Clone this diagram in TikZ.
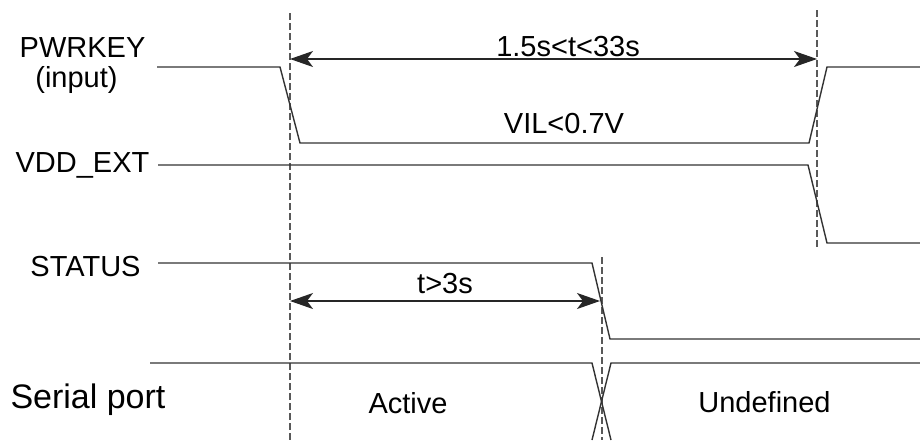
\documentclass[tikz,border=0pt]{standalone}
\usepackage{fontspec}
\setmainfont{Liberation Sans}
\usetikzlibrary{arrows.meta}
\begin{document}
\begin{tikzpicture}[x=1pt,y=-1pt,
  sig/.style={line width=1.4pt, draw=black!80},
  guide/.style={line width=1.3pt, draw=black!65, dash pattern=on 7pt off 3pt},
  dimarrow/.style={line width=1.2pt, draw=black!85,
    {Stealth[length=23pt,width=16pt,inset=6pt]}-{Stealth[length=23pt,width=16pt,inset=6pt]}},
  lbl/.style={font=\fontsize{29}{34}\selectfont, inner sep=0pt, anchor=base},
  biglbl/.style={font=\fontsize{34}{40}\selectfont, inner sep=0pt, anchor=base}]
\useasboundingbox (0,0) rectangle (920,440);
% guide lines
\coordinate (g1t) at (290,13);  \coordinate (g1b) at (290,440);
\coordinate (g2t) at (817,10);  \coordinate (g2b) at (817,248);
\coordinate (g3t) at (602,257); \coordinate (g3b) at (602,440);
\draw[guide] (g1t) -- (g1b);
\draw[guide] (g2t) -- (g2b);
\draw[guide] (g3t) -- (g3b);
% waveforms
\draw[sig] (157,67) -- (280,67) -- (300,143) -- (809,143) -- (827,67) -- (920,67);
\draw[sig] (158,165) -- (808,165) -- (827,243) -- (920,243);
\draw[sig] (158,263) -- (592,263) -- (610,339) -- (920,339);
\draw[sig] (150,363) -- (592,363) -- (611,440);
\draw[sig] (920,363) -- (611,363) -- (592,440);
% dimension arrows
\coordinate (a1l) at (290,59); \coordinate (a1r) at (817,59);
\coordinate (a2l) at (290,301); \coordinate (a2r) at (600,301);
\draw[dimarrow] (a1l) -- (a1r);
\draw[dimarrow] (a2l) -- (a2r);
% labels
\node[lbl] (pk) at (82.5,57) {PWRKEY};
\node[lbl] (pki) at (76.5,87) {(input)};
\node[lbl] (vdd) at (82.5,172) {VDD\_EXT};
\node[lbl] (st) at (85.5,276) {STATUS};
\node[biglbl] (sp) at (88,408) {Serial port};
\node[lbl] (t1) at (568,56) {1.5s<t<33s};
\node[lbl] (vil) at (564,133) {VIL<0.7V};
\node[lbl] (t2) at (445,293) {t>3s};
\node[lbl] (act) at (408,413) {Active};
\node[lbl] (und) at (764.5,412) {Undefined};
\end{tikzpicture}
\end{document}
